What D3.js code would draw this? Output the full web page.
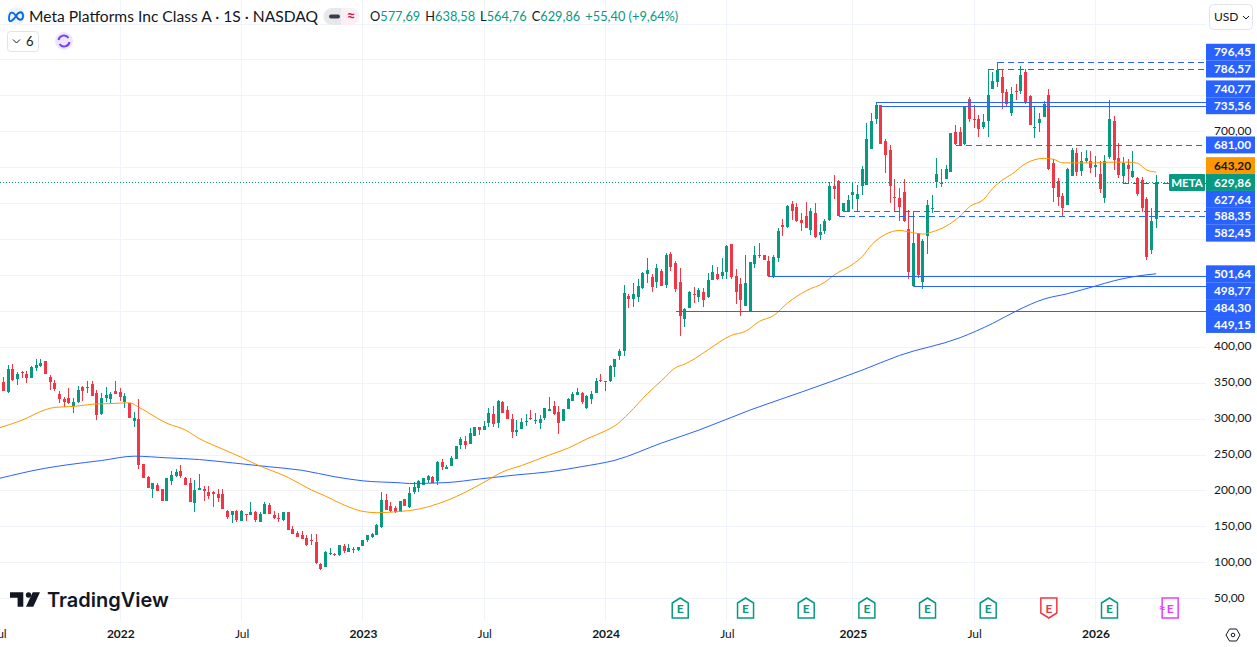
<!DOCTYPE html>
<html lang="en">
<head>
<meta charset="utf-8">
<title>Meta Platforms Inc Class A weekly chart</title>
<script src="https://d3js.org/d3.v7.min.js"></script>
<style>
	body { margin: 0; background: #fff; font-family: Lato, "Noto Sans", sans-serif; color: #131722; }
	svg { display: block; }
	text { fill: #131722; }
</style>
</head>
<body>
<script>
// weekly candles, first one is the week of 12 Jul 2021
var firstWeek = new Date(Date.UTC(2021, 6, 12));

var opens = [
	351.4,336.6,369.4,355.6,364.3,362.5,357,370.4,373,380.6,
	358.3,350,334.7,327.8,329,318,323.6,344.4,343,348.6,
	336,307,329,327.8,339,337.5,323.6,322,296,300,
	237.5,219.4,201.4,208,201.4,186,212.5,220.8,226.4,218,
	209.7,182.4,200,201.4,197.7,197.2,195,195,171.8,165.7,
	171.8,157.4,166.7,165.3,170,156,167,179.6,165.7,161.6,
	158.8,170,146.3,140.7,138,133.8,131.5,128,97.7,93.5,
	111.6,111.6,110.2,122.7,114.3,117.6,117,122.7,131,135,
	138,149,186.6,178,175.5,170,187.5,176.8,197.2,202.8,
	207,214,219.4,212.5,239,230.5,234.7,244.4,263.9,269.4,
	265.3,276.4,288.9,284.7,294.4,307,294.4,323.6,312.5,300,
	282,286,295.8,301.4,296.8,294.4,301.4,311,318,309.7,
	297,313.9,325,333.3,336,315.3,327.8,336,354,351,
	352.8,372,387.7,394.7,471.2,467,470,482.4,502,497.7,
	490.7,506,486.5,529.7,517,490.7,439,454.5,474,469.8,
	476.8,469.8,493.5,501.9,499,504.6,543.6,499,488,457.3,
	450.4,515.8,526.9,528.3,520,499,524,570,567.3,599.3,
	595,577,582.6,563,586.8,556,561.7,577,623.9,630.9,
	588.6,588.6,611.4,605.8,623.9,625.3,675.4,717.2,736.7,686.5,
	674,608.6,607.2,615.6,564,484.2,558,490,554.3,591.4,
	629.5,628,633.6,643.4,699,699,682.4,745,717.2,717.2,
	706,714.4,759,768.7,775.6,754.8,725.5,756,756,782.6,
	749.2,704.6,711.6,720,750.6,656,631,610,597.5,637.8,
	669.8,644.8,658.7,658.7,650,640.6,607.2,664.3,714.4,662.9,
	637.8,653,636.4,635,632.3,605.8,535,577.69
];
var highs = [
	358.3,375,376.4,364.4,365.7,366.7,373.6,383,383.3,380.6,
	361,354,339,330.5,343,329,345,346,353,353,
	340,336,344.4,337.5,353,343,336,322,309.7,327.8,
	237.5,220.8,211,209.7,201.4,216.7,226.4,230.5,236,219.4,
	218,214,223.6,206,206,199,201.8,201.8,172.7,171.3,
	172.7,172.7,167,183.8,171.3,170,183.8,182,171.3,168.5,
	170,170,150.5,143.5,143.5,138,139.3,139.3,99,115.7,
	120,113,124,125.5,125.5,121.3,121.3,131,138,140.7,
	153.2,197.7,195,183.8,178,186,187.5,205.5,211.6,215,
	216.7,222,220.8,241.7,244.4,236,248.6,262.5,275,276.4,
	287.5,288.9,288.9,297,315.3,318,326.4,325,318,307,
	298.6,301.4,307,312.5,308.3,305.5,315.3,330.5,325,318,
	313.9,329,337.5,343,337.5,333.3,339,357,362.5,352.8,
	375,383.3,397.5,486.5,474,489,495,504.6,524,502,
	515.8,508.8,531,532.5,520,510.2,454.5,478,483.8,482.4,
	482.4,503,514.4,511.6,524,542,543.6,508.8,496.3,528.3,
	518.6,540.8,545,528.3,527,528.3,565.9,578.4,597.9,603.5,
	600.7,586.8,602,593.7,600.7,571.5,578.4,629.5,639.2,632.3,
	600.2,611.4,629.5,625.3,651.7,711.6,725.5,739.4,736.7,689.3,
	681,633.6,621,633.6,590.5,589,558,550,604.4,611.4,
	662.9,647.6,653,697.7,708.8,706,735.3,747.8,736.7,722.7,
	724,786.3,782.6,796,786.8,759,761.7,765.9,790.9,786.8,
	750.6,735.3,725.5,742,759,661.5,635,614,649,676.8,
	676.8,671,674,672.6,665.7,658.7,667,743.6,721.3,683.8,
	664.3,661.5,672.6,636.4,636.4,608.6,593.3,638.58
];
var lows = [
	338.9,335.2,352.8,347.2,356.5,350,357,366.7,372,362,
	340,339,322,316.7,321,308,322,325,335,332,
	298.6,305.5,323.6,322,334.7,325,315,301.4,289,230.5,
	216.7,204,190,198.6,186,186,207,219.4,218,208,
	183.3,169.4,200,185,188,176.8,183.8,174,160,154.6,
	156,157.4,157.4,165.3,156,156,167,167,160,156,
	157.4,145,139.3,135,132.4,122.7,124,97.7,89.3,93.5,
	110.2,108.8,108.8,113,114.3,113,115.7,122.7,128,134,
	138,147.7,172.7,170,168.5,170,177.8,176,194.4,197.2,
	207,211,209.7,207,229,230.5,234.7,244.4,258.3,258.3,
	265.3,276.4,277.8,284.7,288.9,288.9,287.5,308.3,300,273.6,
	276.4,286,290,298.6,293,286,298.6,311,305.5,279,
	297,313.9,325,333.3,320.8,313.9,321,336,351.4,339,
	351.4,358.3,382,387.7,454.5,456,463,481,489,476.8,
	482.4,485,482.4,506,476.8,415.6,428,454.5,461.5,463,
	456,468.4,493.5,493.5,495,494.4,495,460,443.4,457.3,
	450.4,510.2,524,521.3,497.7,496.3,518.6,554.8,565.9,577,
	574,561.7,566,556,552,549,557.5,575.6,605.8,581.7,
	587,587,591.4,588.6,611.4,625.3,675.4,710.2,682.4,642,
	600.2,589,575,573.3,494.4,482.8,496,480.5,529.3,586.3,
	621,622.5,633.6,643.4,681,679.6,681,713,704.6,692,
	703.2,692,759,761.7,731,735.3,721.3,743.6,752,738,
	708.8,690.7,699,720,646,601.6,596,580.8,597.5,637.8,
	637.8,637.8,656,642,636.4,614,600.2,661.5,646,635,
	627.6,629.5,635,610,587.7,521,529.3,564.76
];
var closes = [
	338.9,369.4,354.2,362.5,363,357,372.2,375,377.8,362,
	351.4,341.7,327.8,323.6,322,323.6,340,339,344.4,332,
	305.5,329,333,334.7,334.7,330.5,332,301.4,301.4,236,
	218,204,211,198.6,186,216.7,222,225,220.8,208,
	183.3,200,204,199,192,195.4,189.3,174,163,171.3,
	158.8,171.3,165.3,170,158.8,167,181,167,161.6,160,
	169.4,145,139.3,135,132.4,124,130,99,90.7,114.3,
	113,110.2,123.6,115.7,120,119,121.3,131,138,139.3,
	152.3,186.6,172.7,171.3,170,184.7,177.8,195.8,205.5,212.5,
	216.7,220.8,211,240,232,233.3,245.8,262.5,272,263.9,
	280.5,288.9,284.7,290.3,308.3,293,325,308.3,300,282,
	284.7,295.8,297,299.5,298,300,315.3,313.9,307,294.4,
	313.9,327.8,334.7,337.5,323.6,332,334.7,352.8,352.8,352.3,
	373.6,383.3,394.7,475.4,467,474,485,503.2,507.4,483.8,
	510.2,485,528.3,511.6,481,443.4,453,476.8,472.6,479.6,
	465.7,493.5,504.6,495,504.6,540.8,497.7,476.8,465.7,489.3,
	518.6,528.3,528.3,521.3,499,525.5,561.7,567.3,596.5,589.6,
	575.6,572.8,566,589.6,553.4,560.3,575.6,623.9,619.7,581.7,
	600.2,604.4,615.6,612.8,647.6,689.3,714.4,736.7,682.4,667,
	623.9,607.2,594.7,575,504,544.6,500,547.3,597.5,592.8,
	640.6,626.7,647.6,697.7,682.4,681,735.3,717.2,715.8,703.2,
	713,750.6,770,785.4,753.4,738,752,754.8,778.4,739.4,
	708.8,706,717.2,738,647.6,621,608.6,593.3,647.6,674,
	643.4,658.7,662.9,649,653,619.7,658.7,717.2,660,639.2,
	656,647.6,644.8,612.8,593.3,525,575.2,629.86
];

var orangeWeeks = [-1,4,9,11,15,19,23,27,29,35,39,42,47,51,54,61,66,69,73,77,80,85,87,95,99,103,107,111,117,121,125,129,131,134,138,141,144,146,148,151,156,159,162,165,168,172,176,178,182,184,186,189,192,194,197,199,202,205,207,210,212,214,216,219,223,225,227,234,237,241,243,245,247];
var orangeValues = [287,298,312.5,315.7,317,320,321,322,315.7,293.5,284,272,257.4,246,236.6,218,200.5,192,179.6,170.8,169,170.8,172,186,197.7,211.6,226,234.7,249.5,259,271.8,283,290,307.4,335,352.8,371,376,383,396,416,421.6,435.5,443.4,461,478,490,500,515,525.5,541.8,556.6,562,560,557,560,568,582,595,605,620.6,632,640,655,662.4,661,656,656,657,657,655.5,646,643.2];
var blueWeeks = [-1,9,14,21,28,35,42,49,57,64,71,77,85,87,95,102,110,117,124,131,141,149,160,171,184,192,205,212,217,223,228,234,238,243,247];
var blueValues = [216.7,231,236,241.7,247.7,245.4,243,238.4,232.9,228,219,213.4,210.6,209.7,211,216,221.7,226,233.3,242,266,284,312,337,367.5,388,412.7,432.7,449.8,466.5,473.9,484.6,492,498.5,501.64];

// horizontal levels drawn on the chart
var levelPrices = [796.45,786.57,740.77,735.56,681,627.64,588.35,582.45,498.77,484.30,449.15];
var levelWeeks = [213,211,187,188,204,240,180,179,164,195,144];
var levelDashed = [true,true,false,false,true,true,true,true,false,false,false];

var lastPrice = 629.86;
var orangeLast = 643.20;
var blueLast = 501.64;

var earningsDates = ["2024-04-22","2024-07-29","2024-10-28","2025-01-27","2025-04-28","2025-07-28","2025-10-27","2026-01-26","2026-04-27"];
var earningsKinds = ["beat","beat","beat","beat","beat","beat","miss","beat","next"];

var legendOhlc = [["O","577,69"],["H","638,58"],["L","564,76"],["C","629,86"]];
var priceTicks = d3.range(50, 900, 50);

var w = 1257, h = 647;
var green = "#089981", red = "#f23645", blue = "#2962ff", orange = "#ff9800";
var chartRight = 1206, chartBottom = 621;

var svg = d3.select("body").append("svg").attr("width", w).attr("height", h);

var x = d3.scaleUtc()
	.domain([new Date(Date.UTC(2022, 0, 3)), new Date(Date.UTC(2026, 0, 5))])
	.range([120.3, 1095.5]);
var y = d3.scaleLinear().domain([50, 700]).range([598.2, 131.3]);

function weekDate(i) { return d3.utcMonday.offset(firstWeek, i); }
function weekX(i) { return x(weekDate(i)); }
function money(v) { return d3.format(".2f")(v).replace(".", ","); }

// first monday of each january and july gets a time tick
var timeTicks = d3.utcMonday.range(new Date(Date.UTC(2021, 6, 1)), new Date(Date.UTC(2026, 1, 1)))
	.filter(function(d) { return d.getUTCDate() <= 7 && (d.getUTCMonth() == 0 || d.getUTCMonth() == 6); });

// grid
svg.append("g").selectAll("line").data(priceTicks).enter().append("line")
	.attr("x1", 0).attr("x2", chartRight)
	.attr("y1", function(d) { return Math.round(y(d)) + 0.5; })
	.attr("y2", function(d) { return Math.round(y(d)) + 0.5; })
	.attr("stroke", "#f0f3fa");
svg.append("g").selectAll("line").data(timeTicks).enter().append("line")
	.attr("y1", 0).attr("y2", chartBottom)
	.attr("x1", function(d) { return Math.floor(x(d)) + 0.5; })
	.attr("x2", function(d) { return Math.floor(x(d)) + 0.5; })
	.attr("stroke", "#f0f3fa");

// candles
var candles = svg.append("g").attr("shape-rendering", "crispEdges")
	.selectAll("g").data(opens).enter().append("g")
	.attr("fill", function(d, i) { return closes[i] >= d ? green : red; });
candles.append("rect")
	.attr("x", function(d, i) { return Math.floor(weekX(i)); })
	.attr("width", 1)
	.attr("y", function(d, i) { return y(highs[i]); })
	.attr("height", function(d, i) { return y(lows[i]) - y(highs[i]); });
candles.append("rect")
	.attr("x", function(d, i) { return Math.floor(weekX(i)) - 1; })
	.attr("width", 3)
	.attr("y", function(d, i) { return y(Math.max(d, closes[i])); })
	.attr("height", function(d, i) { return Math.max(1, Math.abs(y(d) - y(closes[i]))); });

// moving averages
var line = d3.line()
	.x(function(d) { return weekX(d[0]); })
	.y(function(d) { return y(d[1]); })
	.curve(d3.curveMonotoneX);
svg.append("path").attr("d", line(d3.zip(blueWeeks, blueValues)))
	.attr("fill", "none").attr("stroke", blue).attr("stroke-width", 1);
svg.append("path").attr("d", line(d3.zip(orangeWeeks, orangeValues)))
	.attr("fill", "none").attr("stroke", orange).attr("stroke-width", 1);

// levels
svg.append("g").attr("shape-rendering", "crispEdges")
	.selectAll("line").data(levelPrices).enter().append("line")
	.attr("x1", function(d, i) { return weekX(levelWeeks[i]); })
	.attr("x2", chartRight)
	.attr("y1", function(d) { return Math.round(y(d)) + 0.5; })
	.attr("y2", function(d) { return Math.round(y(d)) + 0.5; })
	.attr("stroke", blue)
	.attr("stroke-dasharray", function(d, i) { return levelDashed[i] ? "6,4" : null; });

// last price line
svg.append("line")
	.attr("x1", 0).attr("x2", 1169)
	.attr("y1", Math.round(y(lastPrice)) + 0.5).attr("y2", Math.round(y(lastPrice)) + 0.5)
	.attr("stroke", green).attr("stroke-dasharray", "1,2");

// price scale labels, stacked away from the pinned last price
var labelH = 16.9;
var scaleLabels = levelPrices.map(function(p) { return { price: p, fill: blue, ink: "#fff" }; });
scaleLabels.push({ price: blueLast, fill: blue, ink: "#fff" });
scaleLabels.push({ price: orangeLast, fill: orange, ink: "#131722" });
scaleLabels.push({ price: lastPrice, fill: green, ink: "#fff", pin: true });
scaleLabels.sort(function(a, b) { return b.price - a.price; });
var pin = scaleLabels.findIndex(function(d) { return d.pin; });
scaleLabels[pin].cy = y(lastPrice) + 0.8;
for (var i = pin - 1; i >= 0; i--) {
	scaleLabels[i].cy = Math.min(y(scaleLabels[i].price), scaleLabels[i + 1].cy - labelH);
}
for (var j = pin + 1; j < scaleLabels.length; j++) {
	scaleLabels[j].cy = Math.max(y(scaleLabels[j].price), scaleLabels[j - 1].cy + labelH);
}

// price axis, only the ticks the labels and the currency button leave free
var freeTicks = priceTicks.filter(function(p) {
	return y(p) > 40 && scaleLabels.every(function(d) { return Math.abs(d.cy - y(p)) > 12; });
});
var yAxis = d3.axisRight(y).tickValues(freeTicks).tickSize(0).tickPadding(8).tickFormat(money);
var yAxisG = svg.append("g").attr("transform", "translate(1206,-1)").call(yAxis);
yAxisG.select(".domain").remove();
yAxisG.selectAll("text").style("font-family", "Lato, sans-serif").style("font-size", "12px").attr("fill", "#131722");

// time axis
var xAxis = d3.axisBottom(x).tickValues(timeTicks).tickSize(0).tickPadding(8)
	.tickFormat(function(d) { return d.getUTCMonth() == 0 ? d.getUTCFullYear() : "Jul"; });
var xAxisG = svg.append("g").attr("transform", "translate(0,621)").call(xAxis);
xAxisG.select(".domain").remove();
xAxisG.selectAll("text")
	.style("font-family", "Lato, sans-serif").style("font-size", "12px").attr("fill", "#131722")
	.style("font-weight", function(d) { return d.getUTCMonth() == 0 ? 700 : 400; });

var labelG = svg.append("g").selectAll("g").data(scaleLabels).enter().append("g")
	.attr("transform", function(d) { return "translate(1206," + d.cy + ")"; });
labelG.append("rect")
	.attr("x", 0).attr("width", 49).attr("y", -labelH / 2).attr("height", labelH)
	.attr("fill", function(d) { return d.fill; });
labelG.append("text")
	.attr("x", 8).attr("dy", "0.35em")
	.style("font-size", "11.8px").style("font-weight", 700)
	.style("fill", function(d) { return d.ink; })
	.text(function(d) { return money(d.price); });

// META tag
var lastY = y(lastPrice) + 0.8;
svg.append("rect").attr("x", 1169).attr("y", lastY - labelH / 2).attr("width", 36).attr("height", labelH).attr("rx", 1).attr("fill", green);
svg.append("text").attr("x", 1187).attr("y", lastY).attr("dy", "0.35em").attr("text-anchor", "middle")
	.style("font-size", "11.5px").style("font-weight", 700).style("fill", "#fff").text("META");

// earnings markers
var marks = svg.append("g").selectAll("g").data(earningsDates).enter().append("g")
	.attr("transform", function(d) { return "translate(" + x(new Date(d + "T00:00:00Z")) + ",608)"; });
var kindColor = { beat: "#089981", miss: "#f23645", next: "#e040fb" };
marks.append("path")
	.attr("d", function(d, i) {
		if (earningsKinds[i] == "beat") return "M-8,-5L0,-10L8,-5V10H-8Z";
		if (earningsKinds[i] == "miss") return "M-8,-10H8V5L0,10L-8,5Z";
		return "M-8,-10H8V10H-8Z";
	})
	.attr("fill", "#fff")
	.attr("stroke-width", 1.5)
	.attr("stroke", function(d, i) { return kindColor[earningsKinds[i]]; });
marks.append("text")
	.attr("text-anchor", "middle").attr("y", 4.5)
	.style("font-size", "12px").style("font-weight", 700)
	.style("fill", function(d, i) { return kindColor[earningsKinds[i]]; })
	.text("E");
marks.filter(function(d, i) { return earningsKinds[i] == "next"; }).append("text")
	.attr("x", -8).attr("y", 4).attr("text-anchor", "middle")
	.style("font-size", "12px").style("font-weight", 700).style("fill", kindColor.next)
	.text("≈");

// header
var head = svg.append("g").style("font-size", "15.6px");
head.append("circle").attr("cx", 16).attr("cy", 16).attr("r", 9).attr("fill", "#eef3fd");
head.append("path").attr("d", "M9,19C9,11 13,11 16,16C19,21 23,21 23,16C23,11 19,11 16,16C13,21 9,23 9,19")
	.attr("fill", "none").attr("stroke", "#0668e1").attr("stroke-width", 1.8);
head.append("text").attr("x", 29).attr("y", 21.5).text("Meta Platforms Inc Class A · 1S · NASDAQ");

head.append("path").attr("d", "M332,8H341V25H332A8.5,8.5 0 0 1 332,8Z").attr("fill", "#e8e8ea");
head.append("path").attr("d", "M341,8H351A8.5,8.5 0 0 1 351,25H341Z").attr("fill", "#fdeef3");
head.append("rect").attr("x", 329).attr("y", 14.5).attr("width", 11).attr("height", 4).attr("rx", 2).attr("fill", "#3a3e4a");
head.append("text").attr("x", 351).attr("y", 21).attr("text-anchor", "middle")
	.style("font-size", "15px").style("font-weight", 700).style("fill", "#c2185b").text("≈");

var ohlcText = head.append("text").attr("x", 370).attr("y", 21).style("font-size", "12.8px");
legendOhlc.forEach(function(d, i) {
	ohlcText.append("tspan").attr("dx", i ? 5 : 0).text(d[0]);
	ohlcText.append("tspan").style("fill", green).text(d[1]);
});
ohlcText.append("tspan").attr("dx", 5).style("fill", green).text("+55,40 (+9,64%)");

// collapsed indicators button
head.append("rect").attr("x", 7.5).attr("y", 31.5).attr("width", 31).attr("height", 20).attr("rx", 3)
	.attr("fill", "#fff").attr("stroke", "#e0e3eb");
head.append("path").attr("d", "M13,39.5L16.5,43L20,39.5").attr("fill", "none").attr("stroke", "#131722");
head.append("text").attr("x", 26).attr("y", 46).style("font-size", "13px").text("6");
head.append("circle").attr("cx", 64).attr("cy", 41).attr("r", 9).attr("fill", "#ede7fd");
head.append("path").attr("d", "M58.5,40A5.5,5.5 0 0 1 68.5,38M69.5,42A5.5,5.5 0 0 1 59.5,44")
	.attr("fill", "none").attr("stroke", "#7a3ff2").attr("stroke-width", 2);

// currency button
svg.append("rect").attr("x", 1209.5).attr("y", 4.5).attr("width", 43).attr("height", 25).attr("rx", 4)
	.attr("fill", "#fff").attr("stroke", "#e0e3eb");
svg.append("text").attr("x", 1214).attr("y", 21).style("font-size", "12px").text("USD");
svg.append("path").attr("d", "M1243,16L1246,19L1249,16").attr("fill", "none").attr("stroke", "#131722");

// TradingView logo
var logo = svg.append("g").attr("fill", "#131722");
logo.append("path").attr("d", "M10,592.3H23.3V606.7H17.6V597.7H10Z");
logo.append("circle").attr("cx", 28.5).attr("cy", 595).attr("r", 2.7);
logo.append("path").attr("d", "M32.7,592.3H40L33.3,606.7H26Z");
svg.append("text").attr("x", 47).attr("y", 607)
	.style("font-family", "Inter, sans-serif").style("font-size", "20px").style("font-weight", 600)
	.text("TradingView");

// scale settings icon
svg.append("path").attr("d", "M1226,635L1229.5,629H1236.5L1240,635L1236.5,641H1229.5Z")
	.attr("fill", "none").attr("stroke", "#131722");
svg.append("circle").attr("cx", 1233).attr("cy", 635).attr("r", 1.8).attr("fill", "none").attr("stroke", "#131722");
</script>
</body>
</html>
